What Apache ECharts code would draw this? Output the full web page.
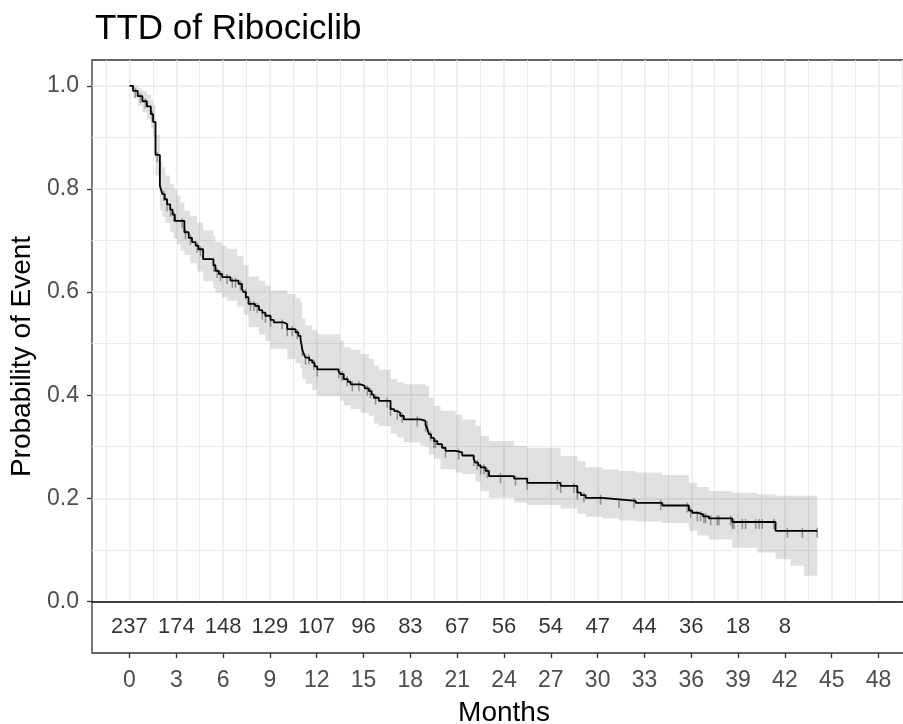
<!DOCTYPE html>
<html>
<head>
<meta charset="utf-8">
<title>TTD of Ribociclib</title>
<script src="https://cdn.jsdelivr.net/npm/echarts@6/dist/echarts.min.js"></script>
<style>
  html, body { margin: 0; padding: 0; background: #fff; }
  #main { width: 903px; height: 724px; }
</style>
</head>
<body>
<div id="main"></div>
<script>
// KM step curve (months, probability after the drop)
var kmTime = [0, 0.23, 0.53, 0.83, 1.12, 1.37, 1.52, 1.67, 1.95, 2.01, 2.11, 2.26, 2.41, 2.61, 2.76, 2.91,
  3.52, 3.80, 4.01, 4.24, 4.42, 4.72, 5.38, 5.51, 5.73, 5.94, 6.47, 6.99, 7.21, 7.31, 7.46, 7.63,
  8.05, 8.30, 8.51, 8.71, 9.04, 9.25, 9.89, 10.11, 10.64, 10.82, 10.96, 11.02, 11.07, 11.17, 11.28,
  11.52, 11.71, 11.86, 12.03, 13.40, 13.52, 13.73, 13.99, 14.17, 14.81, 15.08, 15.34, 15.52, 15.66,
  15.98, 16.73, 16.96, 17.16, 17.35, 17.58, 18.64, 18.97, 19.09, 19.19, 19.33, 19.51, 19.73, 20.03,
  20.25, 20.90, 21.32, 22.06, 22.17, 22.35, 22.50, 22.82, 23.04, 24.64, 25.49, 27.63, 28.70, 28.93,
  29.23, 30.30, 31.36, 32.44, 34.14, 35.85, 36.06, 36.38, 36.75, 37.13, 38.63, 41.40, 44.07];
var kmSurv = [1.0, 0.99, 0.98, 0.97, 0.96, 0.945, 0.93, 0.866, 0.806, 0.80, 0.79, 0.78, 0.77, 0.76, 0.75, 0.738,
  0.716, 0.705, 0.697, 0.69, 0.683, 0.664, 0.652, 0.641, 0.635, 0.629, 0.622, 0.616, 0.606, 0.60, 0.59, 0.577,
  0.573, 0.565, 0.56, 0.554, 0.546, 0.541, 0.538, 0.528, 0.522, 0.515, 0.509, 0.499, 0.489, 0.48, 0.473,
  0.468, 0.463, 0.456, 0.45, 0.446, 0.441, 0.431, 0.426, 0.421, 0.418, 0.413, 0.408, 0.401, 0.395,
  0.389, 0.373, 0.369, 0.366, 0.36, 0.353, 0.35, 0.343, 0.335, 0.324, 0.317, 0.311, 0.305, 0.298,
  0.292, 0.289, 0.283, 0.276, 0.269, 0.264, 0.26, 0.253, 0.243, 0.238, 0.23, 0.224, 0.211, 0.206,
  0.201, 0.198, 0.195, 0.191, 0.186, 0.176, 0.172, 0.169, 0.165, 0.161, 0.154, 0.137, 0.137];

// confidence band
var bandTime = [0, 0.23, 0.53, 0.83, 1.12, 1.37, 1.52, 1.67, 1.95, 2.11, 2.31, 2.61, 2.84, 3.05, 3.27, 3.52,
  3.89, 4.34, 4.72, 5.38, 5.51, 5.94, 6.26, 6.90, 7.31, 7.63, 8.30, 8.71, 9.04, 10.11, 10.64, 10.96,
  11.07, 11.28, 11.71, 12.03, 13.52, 13.73, 14.17, 14.81, 15.34, 15.66, 15.98, 16.73, 17.16, 17.58,
  18.64, 18.97, 19.19, 19.51, 19.93, 20.90, 21.32, 22.17, 22.50, 23.04, 24.64, 25.49, 27.63, 28.70,
  29.23, 30.30, 31.36, 32.44, 34.14, 35.85, 36.38, 37.13, 38.63, 40.24, 41.40, 42.37, 43.23, 44.07];
var bandUpper = [1.0, 1.0, 0.995, 0.99, 0.983, 0.972, 0.962, 0.905, 0.852, 0.842, 0.826, 0.81, 0.80, 0.787, 0.774, 0.758,
  0.748, 0.735, 0.72, 0.708, 0.697, 0.69, 0.684, 0.67, 0.652, 0.63, 0.622, 0.612, 0.603, 0.596, 0.588, 0.58,
  0.548, 0.535, 0.526, 0.518, 0.506, 0.493, 0.488, 0.48, 0.47, 0.457, 0.45, 0.432, 0.425, 0.421,
  0.421, 0.418, 0.395, 0.379, 0.37, 0.362, 0.353, 0.34, 0.321, 0.311, 0.302, 0.298, 0.282, 0.272,
  0.26, 0.256, 0.253, 0.25, 0.245, 0.23, 0.222, 0.214, 0.211, 0.208, 0.205, 0.205, 0.205, 0.205];
var bandLower = [1.0, 0.977, 0.962, 0.948, 0.935, 0.918, 0.90, 0.826, 0.758, 0.746, 0.734, 0.716, 0.704, 0.692, 0.68, 0.672,
  0.656, 0.64, 0.621, 0.608, 0.599, 0.59, 0.583, 0.572, 0.556, 0.532, 0.517, 0.505, 0.49, 0.47, 0.462, 0.452,
  0.431, 0.422, 0.41, 0.399, 0.389, 0.38, 0.373, 0.366, 0.36, 0.345, 0.34, 0.325, 0.318, 0.308,
  0.302, 0.30, 0.285, 0.276, 0.256, 0.25, 0.247, 0.232, 0.214, 0.201, 0.192, 0.187, 0.18, 0.17,
  0.164, 0.161, 0.157, 0.155, 0.152, 0.137, 0.128, 0.12, 0.104, 0.095, 0.082, 0.069, 0.05, 0.05];

// censoring marks
var censorTime = [0.38, 0.71, 1.02, 1.45, 1.78, 2.20, 2.41, 2.63, 2.84, 3.38, 3.59, 3.91, 4.34, 4.55,
  5.41, 5.62, 5.83, 6.26, 6.59, 6.80, 7.11, 7.44, 7.75, 7.97, 8.19, 8.51, 8.71, 9.04, 9.78, 10.11,
  10.43, 10.75, 11.07, 11.28, 11.50, 11.81, 12.03, 13.42, 13.63, 13.95, 14.28, 14.70, 15.24, 15.44,
  15.77, 16.51, 16.73, 17.16, 17.48, 18.44, 18.98, 19.08, 19.29, 19.51, 19.61, 20.25, 21.10, 22.07,
  22.28, 22.50, 22.71, 22.93, 23.78, 24.74, 25.49, 27.42, 27.63, 28.48, 28.70, 29.12, 30.19, 31.37,
  32.33, 34.04, 35.74, 35.96, 36.39, 36.60, 36.81, 36.92, 37.24, 37.67, 37.77, 38.52, 38.63, 38.73,
  39.27, 39.48, 40.13, 40.34, 40.55, 41.30, 42.16, 43.12, 44.07];

// numbers at risk
var riskTime = [0, 3, 6, 9, 12, 15, 18, 21, 24, 27, 30, 33, 36, 39, 42];
var riskN = [237, 174, 148, 129, 107, 96, 83, 67, 56, 54, 47, 44, 36, 18, 8];

var xTicks = [0, 3, 6, 9, 12, 15, 18, 21, 24, 27, 30, 33, 36, 39, 42, 45, 48];
var yTicks = [0, 0.2, 0.4, 0.6, 0.8, 1.0];

function survAt(t) {
  var s = 1;
  for (var i = 0; i < kmTime.length; i++) {
    if (kmTime[i] <= t + 1e-9) s = kmSurv[i];
  }
  return s;
}

var kmData = kmTime.map(function (t, i) { return [t, kmSurv[i]]; });
var bandData = bandTime.map(function (t, i) { return [t, bandLower[i], bandUpper[i]]; });
var censorData = censorTime.map(function (t) { return [t, survAt(t)]; });
var riskData = riskTime.map(function (t, i) { return [t, -0.05, riskN[i]]; });

// band drawn as one stepped polygon: upper edge forward, lower edge back
function renderBand(params, api) {
  if (params.dataIndex !== 0) return;
  var n = bandData.length, pts = [], i;
  for (i = 0; i < n; i++) {
    pts.push(api.coord([bandData[i][0], bandData[i][2]]));
    if (i < n - 1) pts.push(api.coord([bandData[i + 1][0], bandData[i][2]]));
  }
  for (i = n - 1; i >= 0; i--) {
    if (i < n - 1) pts.push(api.coord([bandData[i + 1][0], bandData[i][1]]));
    pts.push(api.coord([bandData[i][0], bandData[i][1]]));
  }
  return {
    type: 'polygon',
    shape: { points: pts },
    style: { fill: 'rgba(0,0,0,0.12)', stroke: null }
  };
}

// grid lines (panel grid stops at 0, the risk table sits below it)
var gridLines = [];
for (var gx = -1.5; gx <= 49.5; gx += 1.5) {
  var major = Math.abs(gx % 3) < 1e-9;
  gridLines.push([
    { coord: [gx, 0], lineStyle: { color: '#ebebeb', width: major ? 1.6 : 1, type: 'solid' } },
    { coord: [gx, 1.05] }
  ]);
}
for (var k = 1; k <= 10; k++) {
  var gy = k / 10;
  gridLines.push([
    { coord: [-2.4, gy], lineStyle: { color: '#ebebeb', width: k % 2 === 0 ? 1.6 : 1, type: 'solid' } },
    { coord: [50.4, gy] }
  ]);
}
gridLines.push([
  { coord: [-2.4, 0], lineStyle: { color: '#000', width: 1.6, type: 'solid' } },
  { coord: [50.4, 0] }
]);

var chart = echarts.init(document.getElementById('main'));
var option = {
  animation: false,
  backgroundColor: '#fff',
  textStyle: { fontFamily: 'Liberation Sans' },
  title: {
    text: 'TTD of Ribociclib',
    left: 90,
    top: 7,
    textStyle: { fontSize: 35, fontWeight: 'normal', color: '#000', fontFamily: 'Liberation Sans' }
  },
  grid: {
    left: 92, top: 60, width: 824, height: 593,
    outerBoundsMode: 'none', containLabel: false,
    show: true, borderColor: '#333', borderWidth: 1.3, backgroundColor: '#fff'
  },
  xAxis: {
    type: 'value', min: -2.4, max: 50.4,
    axisLine: { show: false, onZero: false },
    axisTick: { show: true, customValues: xTicks, length: 5, lineStyle: { color: '#333', width: 1.3 } },
    axisLabel: { customValues: xTicks, color: '#4d4d4d', fontSize: 23, margin: 16 },
    splitLine: { show: false },
    name: 'Months', nameLocation: 'middle', nameGap: 46,
    nameTextStyle: { fontSize: 28, color: '#000' }
  },
  yAxis: {
    type: 'value', min: -0.1, max: 1.05,
    axisLine: { show: false, onZero: false },
    axisTick: { show: true, customValues: yTicks, length: 5, lineStyle: { color: '#333', width: 1.3 } },
    axisLabel: {
      customValues: yTicks, color: '#4d4d4d', fontSize: 23, margin: 13,
      formatter: function (v) { return v.toFixed(1); }
    },
    splitLine: { show: false },
    name: 'Probability of Event', nameLocation: 'middle', nameGap: 56,
    nameTextStyle: { fontSize: 28, color: '#000' }
  },
  series: [
    {
      name: 'grid', type: 'line', data: [], symbol: 'none', silent: true, z: 1,
      markLine: {
        silent: true, symbol: 'none', z: 1, animation: false,
        label: { show: false }, emphasis: { disabled: true },
        data: gridLines
      }
    },
    {
      name: 'band', type: 'custom', data: bandData, renderItem: renderBand,
      encode: { x: 0, y: [1, 2] }, z: 2, silent: true, clip: true
    },
    {
      name: 'censor', type: 'scatter', data: censorData,
      symbol: 'rect', symbolSize: [1.5, 10], symbolOffset: [0, 2],
      itemStyle: { color: '#7c7c7c' }, z: 3, silent: true
    },
    {
      name: 'TTD', type: 'line', step: 'end', data: kmData,
      symbol: 'none', lineStyle: { color: '#000', width: 1.8 }, z: 4, silent: true
    },
    {
      name: 'risk', type: 'scatter', data: riskData, symbolSize: 0, z: 5, silent: true,
      label: {
        show: true, position: 'inside', color: '#000', fontSize: 22,
        formatter: function (p) { return p.value[2]; }
      }
    }
  ]
};
chart.setOption(option);
</script>
</body>
</html>
